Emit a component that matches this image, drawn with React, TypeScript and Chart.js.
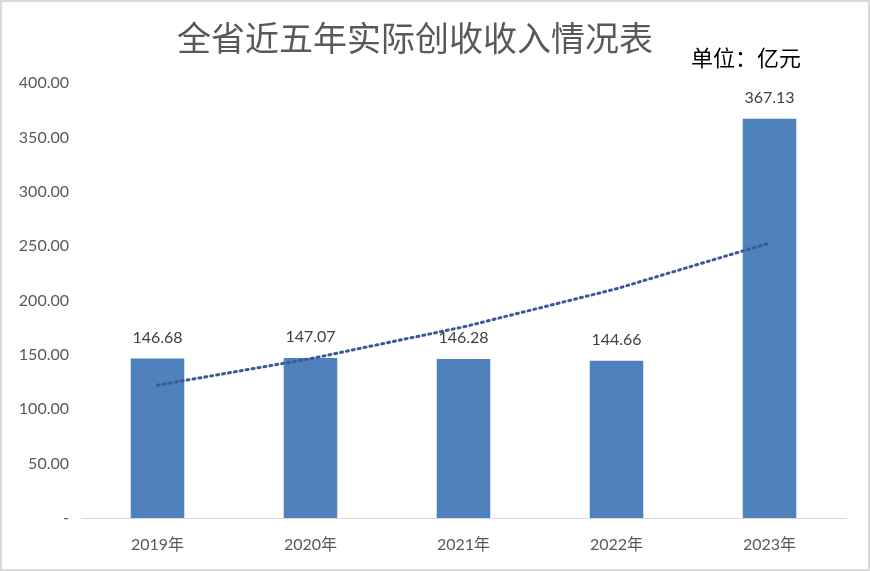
import React, { useEffect, useRef } from "react";
import { Chart, registerables } from "chart.js";

Chart.register(...registerables);

const TITLE = "全省近五年实际创收收入情况表";
const UNIT = "单位：亿元";
const categories = ["2019年", "2020年", "2021年", "2022年", "2023年"];
const revenue = [146.68, 147.07, 146.28, 144.66, 367.13];
// exponential trendline values
const trend = [122.1, 146.5, 175.7, 210.8, 252.9];

const NUM_FONT = "Lato, 'Noto Sans CJK SC', sans-serif";

const textPlugin = {
  id: "customText",
  afterDatasetsDraw(chart: any) {
    const ctx = chart.ctx;
    ctx.save();
    const meta = chart.getDatasetMeta(0);
    ctx.fillStyle = "#404040";
    ctx.font = `16px ${NUM_FONT}`;
    ctx.textAlign = "center";
    ctx.textBaseline = "middle";
    meta.data.forEach((bar: any, i: number) => {
      ctx.fillText(revenue[i].toFixed(2), bar.x, bar.y - 21);
    });
    ctx.fillStyle = "#595959";
    ctx.font = "34px 'Noto Sans CJK SC', sans-serif";
    ctx.fillText(TITLE, 415, 38);
    ctx.fillStyle = "#000000";
    ctx.font = "22px 'Noto Sans CJK SC', sans-serif";
    ctx.fillText(UNIT, 746, 58);
    ctx.restore();
  },
};

export default function App() {
  const ref = useRef<HTMLCanvasElement>(null);
  useEffect(() => {
    document.body.style.margin = "0";
    const chart = new Chart(ref.current as HTMLCanvasElement, {
      type: "bar",
      data: {
        labels: categories,
        datasets: [
          {
            type: "bar",
            data: revenue,
            backgroundColor: "#4F81BD",
            barPercentage: 0.35,
            categoryPercentage: 1,
            order: 1,
          } as any,
          {
            type: "line",
            data: trend,
            borderColor: "#3A5A96",
            borderWidth: 3,
            borderDash: [2, 4],
            borderCapStyle: "round",
            pointRadius: 0,
            fill: false,
            order: 0,
          } as any,
        ],
      },
      options: {
        animation: false,
        responsive: false,
        layout: { padding: { top: 83, right: 24, left: 0, bottom: 0 } },
        plugins: {
          legend: { display: false },
          tooltip: { enabled: false },
          title: { display: false },
        },
        scales: {
          x: {
            grid: { display: false, drawTicks: false },
            border: { display: true, color: "#D9D9D9", width: 1 },
            ticks: {
              color: "#595959",
              font: { size: 16, family: NUM_FONT },
              padding: 17,
            },
            afterFit(scale: any) {
              scale.height = 53;
            },
          },
          y: {
            min: 0,
            max: 400,
            grid: { display: false, drawTicks: false },
            border: { display: false },
            ticks: {
              stepSize: 50,
              color: "#595959",
              font: { size: 16, family: NUM_FONT },
              padding: 12,
              callback: (v: any) => (Number(v) === 0 ? "-" : Number(v).toFixed(2)),
            },
            afterFit(scale: any) {
              scale.width = 81;
            },
          },
        },
      },
      plugins: [textPlugin],
    });
    return () => chart.destroy();
  }, []);
  return (
    <div style={{ width: 870, height: 571, position: "relative" }}>
      <canvas ref={ref} width={870} height={571} style={{ display: "block" }} />
      <div
        style={{
          position: "absolute",
          inset: 0,
          border: "2px solid #D9D9D9",
          boxSizing: "border-box",
          pointerEvents: "none",
        }}
      />
    </div>
  );
}
